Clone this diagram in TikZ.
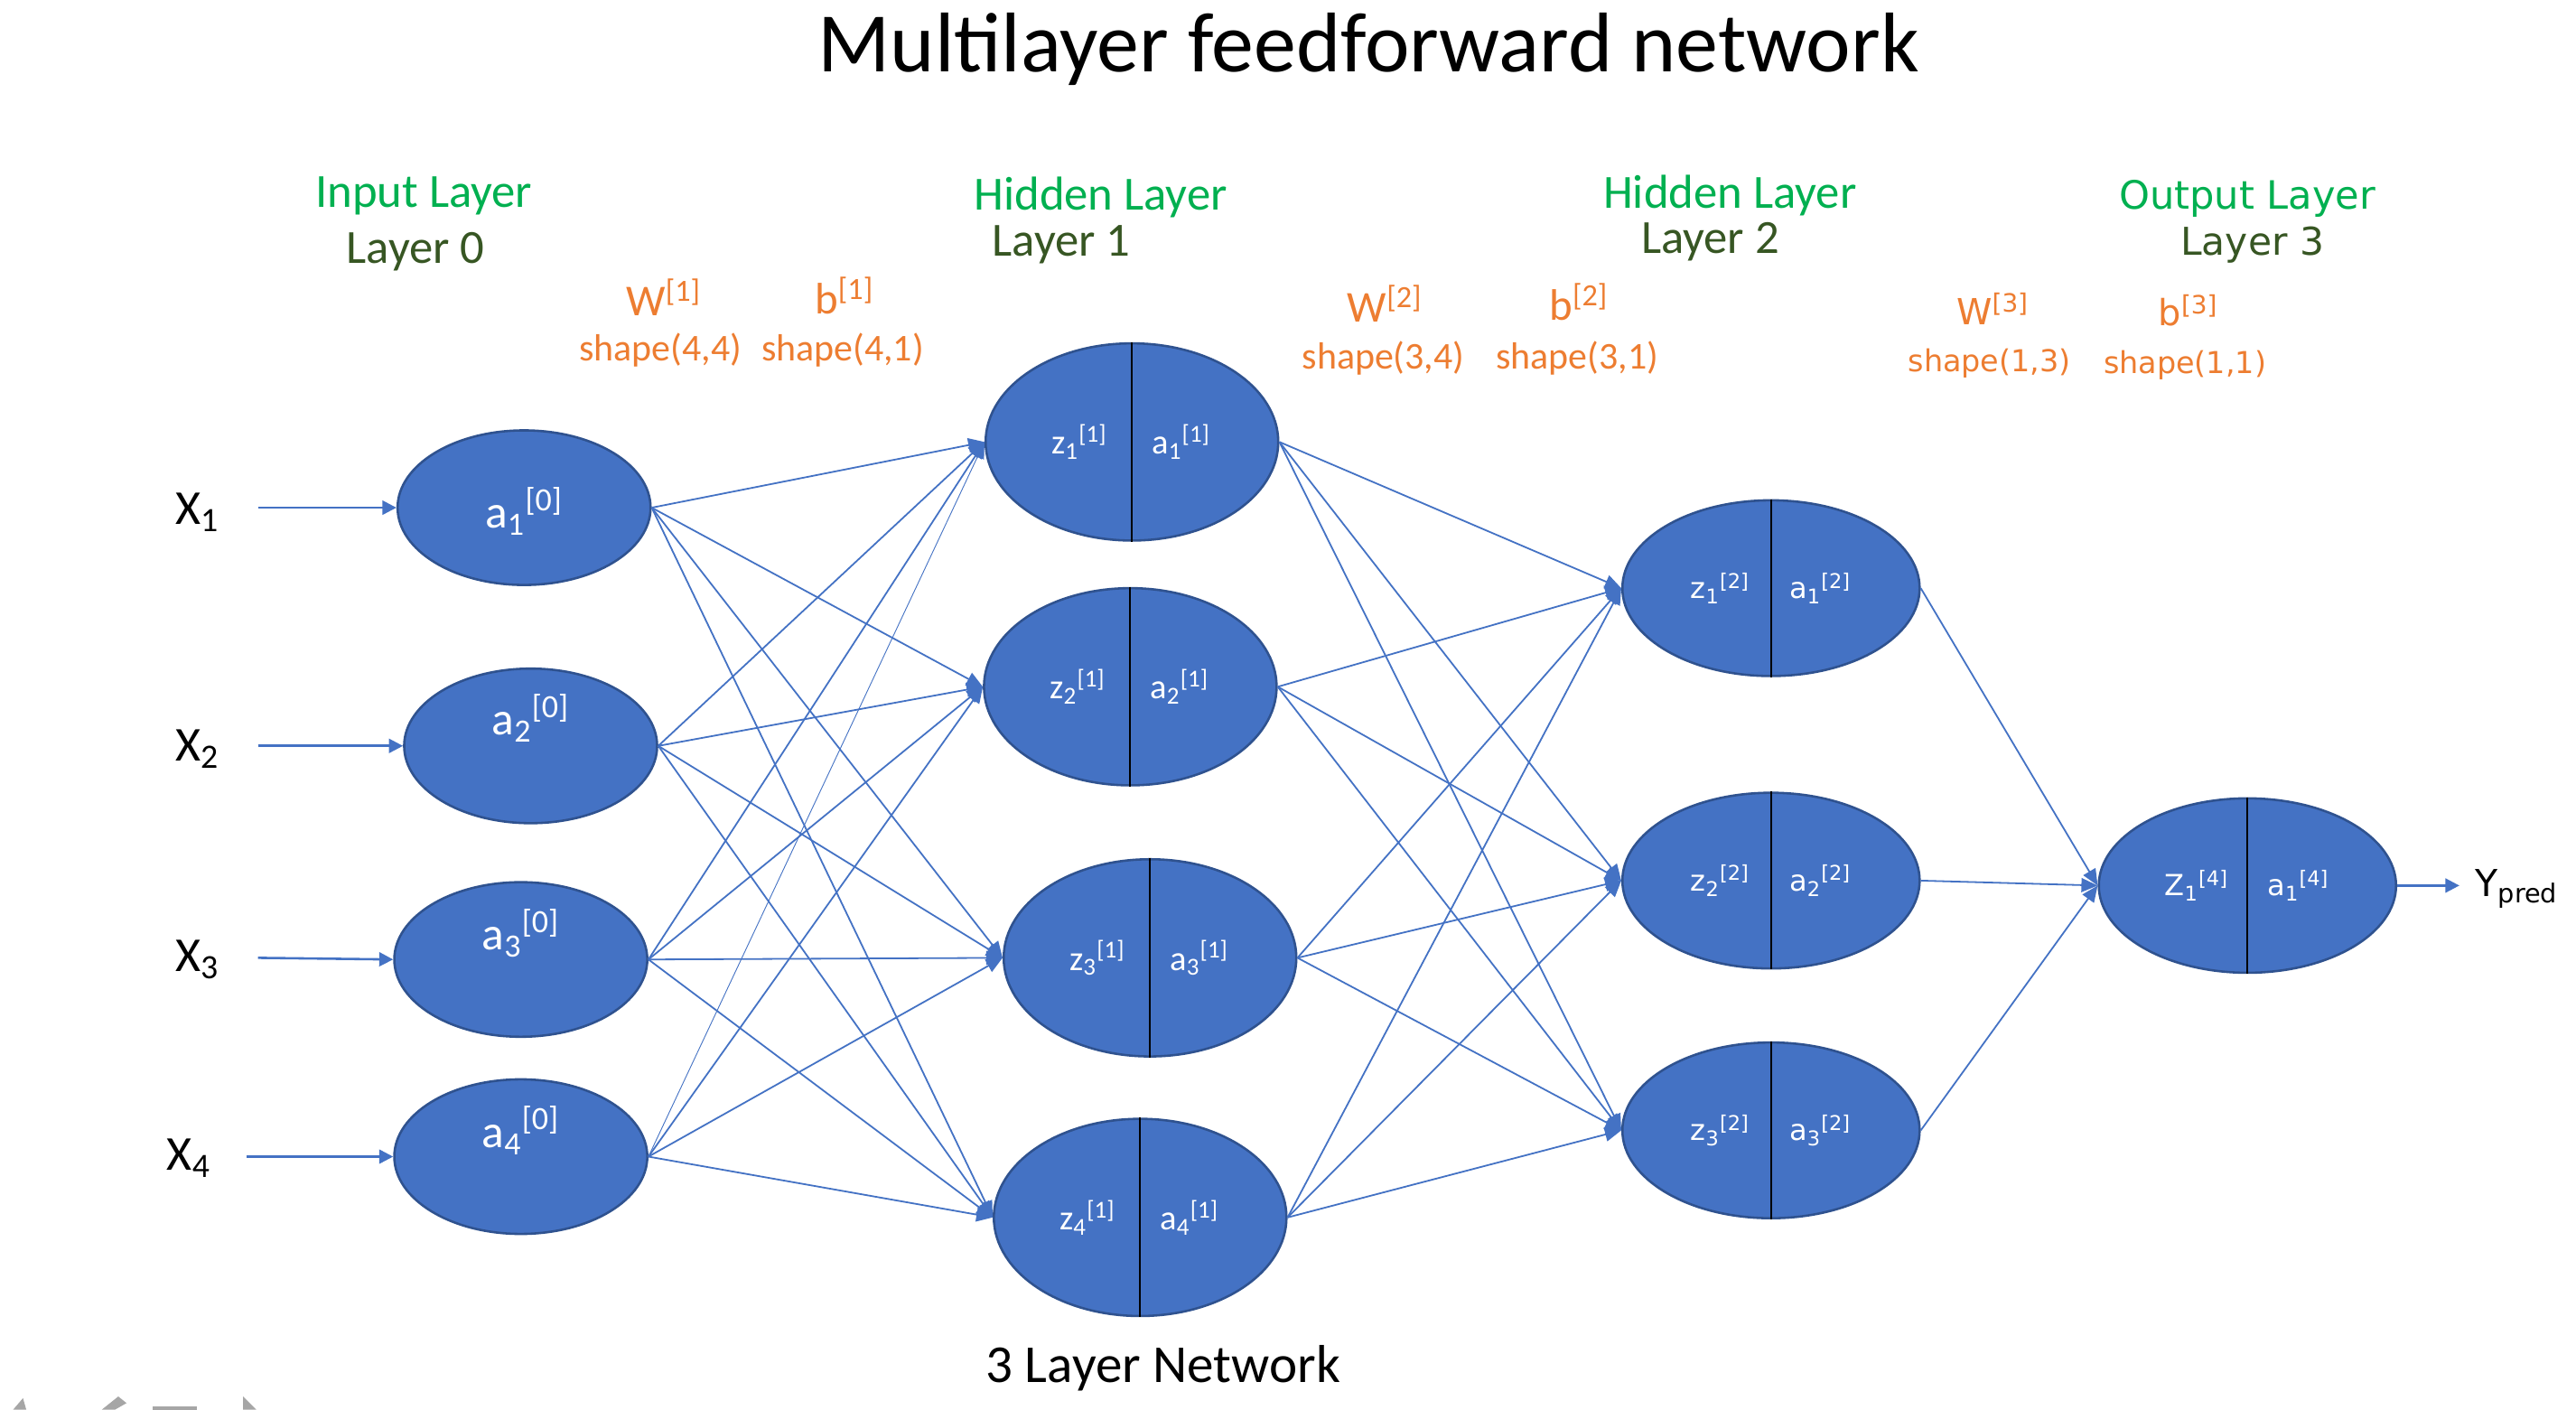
\documentclass[tikz,border=0pt]{standalone}
\usepackage{fontspec}
\setmainfont{Carlito}
\newfontfamily\vfont{DejaVu Sans}
\usetikzlibrary{shapes.geometric,arrows.meta}
\definecolor{nodeblue}{HTML}{4472C4}
\definecolor{nodeedge}{HTML}{2F528F}
\definecolor{lorange}{HTML}{ED7D31}
\definecolor{lgreen}{HTML}{00B050}
\definecolor{dgreen}{HTML}{375623}
\definecolor{icongray}{HTML}{A6A6A6}
\newcommand\fsz[1]{\fontsize{#1}{#1}\selectfont}
\begin{document}
\begin{tikzpicture}[x=0.248724mm,y=-0.248724mm,
  neuron/.style={ellipse, draw=nodeedge, line width=1pt, fill=nodeblue, inner sep=0pt},
  inneur/.style={neuron, minimum width=38.3mm, minimum height=23.4mm},
  honeur/.style={neuron, minimum width=44.3mm, minimum height=29.85mm},
  htneur/.style={neuron, minimum width=45mm, minimum height=26.6mm},
  ilab/.style={text=white, font=\fsz{20pt}, inner sep=0pt},
  holab/.style={text=white, font=\fsz{15pt}, inner sep=0pt},
  htlab/.style={text=white, font=\vfont\fsz{12.5pt}, inner sep=0pt},
  divider/.style={draw=black, line width=0.8pt},
  edge/.style={draw=nodeblue, line width=0.7pt, -{Triangle[length=7pt,width=6pt]}},
  inarrow/.style={draw=nodeblue, line width=1pt, -{Triangle[length=6pt,width=6pt]}},
  xlab/.style={font=\fsz{21pt}, inner sep=0pt},
  green/.style={text=lgreen, font=\fsz{20.5pt}, inner sep=0pt},
  dkgreen/.style={text=dgreen, font=\fsz{20.5pt}, inner sep=0pt},
  wlab/.style={text=lorange, font=\fsz{19pt}, inner sep=0pt},
  shlab/.style={text=lorange, font=\fsz{16.3pt}, inner sep=0pt}
]
\useasboundingbox (0,0) rectangle (1568,858);
\fill[white] (0,0) rectangle (1568,858);

% title
\node[font=\fsz{36.5pt}, inner sep=0pt] (title) at (833,30) {Multilayer feedforward network};

% layer headers
\node[green] (ih) at (258,119) {Input Layer};
\node[dkgreen] (il) at (253,153) {Layer 0};
\node[green] (h1h) at (670,120) {Hidden Layer};
\node[dkgreen] (h1l) at (646,149) {Layer 1};
\node[green] (h2h) at (1053,119) {Hidden Layer};
\node[dkgreen] (h2l) at (1041,147) {Layer 2};
\node[green, font=\vfont\fsz{16.8pt}] (oh) at (1368,121) {Output Layer};
\node[dkgreen, font=\vfont\fsz{16.5pt}] (ol) at (1371,149) {Layer 3};

% weights / biases
\node[wlab] (w1) at (404,181) {W\textsuperscript{[1]}};
\node[wlab] (b1) at (514,180) {b\textsuperscript{[1]}};
\node[shlab] (s1) at (402,213) {shape(4,4)};
\node[shlab] (s2) at (513,213) {shape(4,1)};
\node[wlab] (w2) at (843,185) {W\textsuperscript{[2]}};
\node[wlab] (b2) at (961,184) {b\textsuperscript{[2]}};
\node[shlab] (s3) at (842,218) {shape(3,4)};
\node[shlab] (s4) at (960,218) {shape(3,1)};
\node[wlab, font=\vfont\fsz{15.5pt}] (w3) at (1213,188) {W\textsuperscript{[3]}};
\node[wlab, font=\vfont\fsz{15.5pt}] (b3) at (1332,189) {b\textsuperscript{[3]}};
\node[shlab, font=\vfont\fsz{13pt}] (s5) at (1211,221) {shape(1,3)};
\node[shlab, font=\vfont\fsz{13pt}] (s6) at (1330,222) {shape(1,1)};

% input layer
\node[inneur] (a1) at (319,309) {};
\node[inneur] (a2) at (323,454) {};
\node[inneur] (a3) at (317,584) {};
\node[inneur] (a4) at (317,704) {};
\node[ilab] (a1t) at (319,311) {a\textsubscript{1}\textsuperscript{[0]}};
\node[ilab] (a2t) at (323,437) {a\textsubscript{2}\textsuperscript{[0]}};
\node[ilab] (a3t) at (317,568) {a\textsubscript{3}\textsuperscript{[0]}};
\node[ilab] (a4t) at (317,688) {a\textsubscript{4}\textsuperscript{[0]}};

% inputs X
\node[xlab] (x1) at (120,312) {X\textsubscript{1}};
\node[xlab] (x2) at (120,456) {X\textsubscript{2}};
\node[xlab] (x3) at (120,584) {X\textsubscript{3}};
\node[xlab] (x4) at (115,705) {X\textsubscript{4}};
\coordinate (x1in) at (157,309);
\coordinate (x2in) at (157,454);
\coordinate (x3in) at (157,583);
\coordinate (x4in) at (150,704);
\draw[inarrow] (x1in) -- (a1.west);
\draw[inarrow] (x2in) -- (a2.west);
\draw[inarrow] (x3in) -- (a3.west);
\draw[inarrow] (x4in) -- (a4.west);

% hidden layer 1
\node[honeur] (h1) at (689,269) {};
\node[honeur] (h2) at (688,418) {};
\node[honeur] (h3) at (700,583) {};
\node[honeur] (h4) at (694,741) {};
\foreach \n/\i in {h1/1,h2/2,h3/3,h4/4}{
  \draw[divider] (\n.north) -- (\n.south);
  \node[holab, xshift=-7.96mm] at (\n) {z\textsubscript{\i}\textsuperscript{[1]}};
  \node[holab, xshift=7.46mm] at (\n) {a\textsubscript{\i}\textsuperscript{[1]}};
}

% hidden layer 2
\node[htneur] (g1) at (1078,358) {};
\node[htneur] (g2) at (1078,536) {};
\node[htneur] (g3) at (1078,688) {};
\foreach \n/\i in {g1/1,g2/2,g3/3}{
  \draw[divider] (\n.north) -- (\n.south);
  \node[htlab, xshift=-7.7mm] at (\n) {z\textsubscript{\i}\textsuperscript{[2]}};
  \node[htlab, xshift=7.46mm] at (\n) {a\textsubscript{\i}\textsuperscript{[2]}};
}

% output
\node[htneur, minimum height=26.4mm] (o) at (1368,539) {};
\draw[divider] (o.north) -- (o.south);
\node[htlab, xshift=-7.7mm] at (o) {Z\textsubscript{1}\textsuperscript{[4]}};
\node[htlab, xshift=7.7mm] at (o) {a\textsubscript{1}\textsuperscript{[4]}};

% edges input -> hidden1
\foreach \s in {a1,a2,a3}{
  \foreach \t in {h1,h2,h3,h4}{
    \draw[edge] (\s.east) -- (\t.west);
  }
}
\draw[edge, line width=0.35pt] (a4.east) -- (h1.west);
\foreach \t in {h2,h3,h4}{
  \draw[edge] (a4.east) -- (\t.west);
}
% hidden1 -> hidden2
\foreach \s in {h1,h2,h3,h4}{
  \foreach \t in {g1,g2,g3}{
    \draw[edge] (\s.east) -- (\t.west);
  }
}
% hidden2 -> output
\foreach \s in {g1,g2,g3}{
  \draw[edge] (\s.east) -- (o.west);
}
\coordinate (ypin) at (1497,539);
\draw[inarrow] (o.east) -- (ypin);
\node[font=\vfont\fsz{16pt}, inner sep=0pt] (ypred) at (1532,541) {Y\textsubscript{pred}};

% caption
\node[font=\fsz{23pt}, inner sep=0pt] (cap) at (708,833) {3 Layer Network};

% toolbar remnants at bottom-left
\fill[icongray] (8,858) -- (14,851) -- (16,858) -- cycle;
\fill[icongray] (62,858) -- (72,850) -- (77,854) -- (70,858) -- cycle;
\fill[icongray] (93,856) rectangle (120,858);
\fill[icongray] (148,850) -- (156,858) -- (148,858) -- cycle;
\end{tikzpicture}
\end{document}
